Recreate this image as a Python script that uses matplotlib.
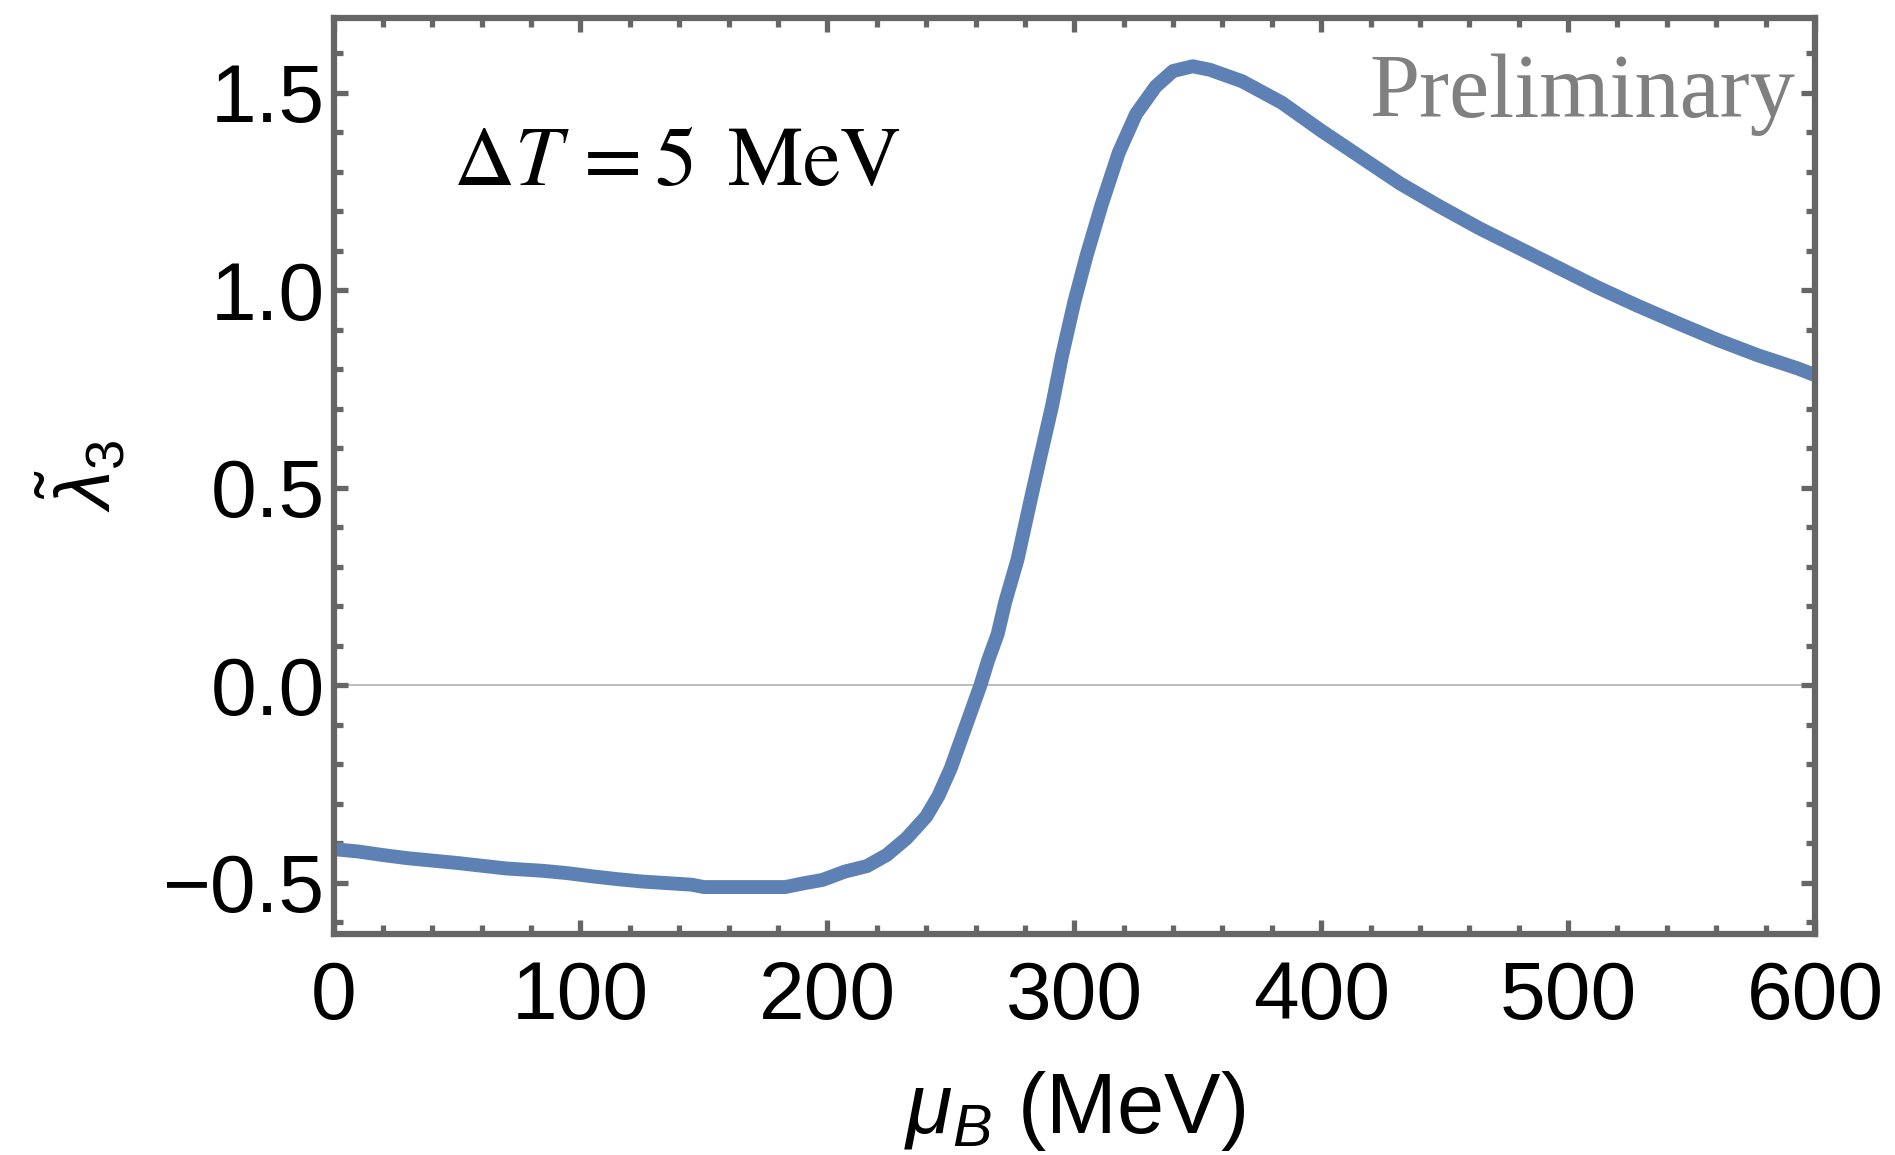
import matplotlib
matplotlib.use("Agg")
import matplotlib.pyplot as plt
from matplotlib.ticker import MultipleLocator

# lambda_3 tilde vs baryon chemical potential
mu_b = [0, 10, 20, 30, 40, 50, 60, 70, 85, 95, 105, 115, 125, 135, 145,
        150, 165, 183, 190, 198, 207, 216, 224, 232, 240, 245, 250, 254,
        258, 262, 265, 269, 272, 277, 282, 286, 291, 295, 300, 305, 311,
        318, 325, 333, 340, 348, 355, 368, 384, 400, 416, 432, 448, 464,
        480, 496, 512, 528, 545, 561, 577, 593, 600]
lam3 = [-0.415, -0.421, -0.430, -0.438, -0.444, -0.450, -0.457, -0.464,
        -0.470, -0.476, -0.484, -0.491, -0.497, -0.501, -0.505, -0.511,
        -0.511, -0.511, -0.502, -0.493, -0.472, -0.458, -0.430, -0.388,
        -0.333, -0.280, -0.210, -0.140, -0.070, 0.0, 0.061, 0.130, 0.210,
        0.318, 0.460, 0.571, 0.707, 0.833, 0.970, 1.088, 1.215, 1.348,
        1.446, 1.516, 1.555, 1.567, 1.558, 1.529, 1.475, 1.404, 1.337,
        1.270, 1.212, 1.157, 1.107, 1.057, 1.007, 0.961, 0.915, 0.873,
        0.835, 0.802, 0.785]

x_ticks = [0, 100, 200, 300, 400, 500, 600]
y_ticks = [-0.5, 0.0, 0.5, 1.0, 1.5]
y_tick_labels = ['\u22120.5', '0.0', '0.5', '1.0', '1.5']

plt.rcParams['font.family'] = ['Liberation Sans', 'DejaVu Sans']
plt.rcParams['mathtext.fontset'] = 'custom'
plt.rcParams['mathtext.rm'] = 'Liberation Sans'
plt.rcParams['mathtext.it'] = 'Liberation Sans:italic'
plt.rcParams['mathtext.bf'] = 'Liberation Sans:bold'

frame = '#666666'
blue = '#5E81B5'

fig = plt.figure(figsize=(18.95, 11.55), dpi=100)
ax = fig.add_axes([0.176, 0.1913, 0.7818, 0.7927])

ax.axhline(0, color='#aaaaaa', lw=1.1, zorder=1)
ax.plot(mu_b, lam3, color=blue, lw=10, solid_capstyle='round',
        solid_joinstyle='round', zorder=2)

ax.set_xlim(0, 600)
ax.set_ylim(-0.63, 1.688)
ax.set_xticks(x_ticks)
ax.set_yticks(y_ticks)
ax.set_yticklabels(y_tick_labels)
ax.xaxis.set_minor_locator(MultipleLocator(20))
ax.yaxis.set_minor_locator(MultipleLocator(0.1))

for s in ax.spines.values():
    s.set_color(frame)
    s.set_linewidth(4.5)
ax.tick_params(which='both', direction='in', top=True, right=True,
               color=frame, width=3.8, labelsize=59)
ax.tick_params(which='major', length=10)
ax.tick_params(which='minor', length=6.3)
ax.tick_params(axis='x', which='both', pad=19)
ax.tick_params(axis='y', which='both', pad=6)

ax.set_xlabel(r'$\mu_B$ (MeV)', fontsize=61)
ax.xaxis.label.set_va('baseline')
ax.xaxis.set_label_coords(0.5, -0.2175)
ax.set_ylabel(r'$\tilde{\lambda}_3$', fontsize=56)
ax.yaxis.label.set_va('center')
ax.yaxis.set_label_coords(-0.17, 0.5)

ax.text(48.4, 1.266, r'$\Delta T\,=5\,\ \mathrm{MeV}$', fontsize=61,
        math_fontfamily='stix', va='baseline', ha='left')
ax.text(592, 1.438, 'Preliminary', fontsize=65, color='#808080',
        family='Liberation Serif', va='baseline', ha='right')

fig.savefig('out.png', dpi=100)
